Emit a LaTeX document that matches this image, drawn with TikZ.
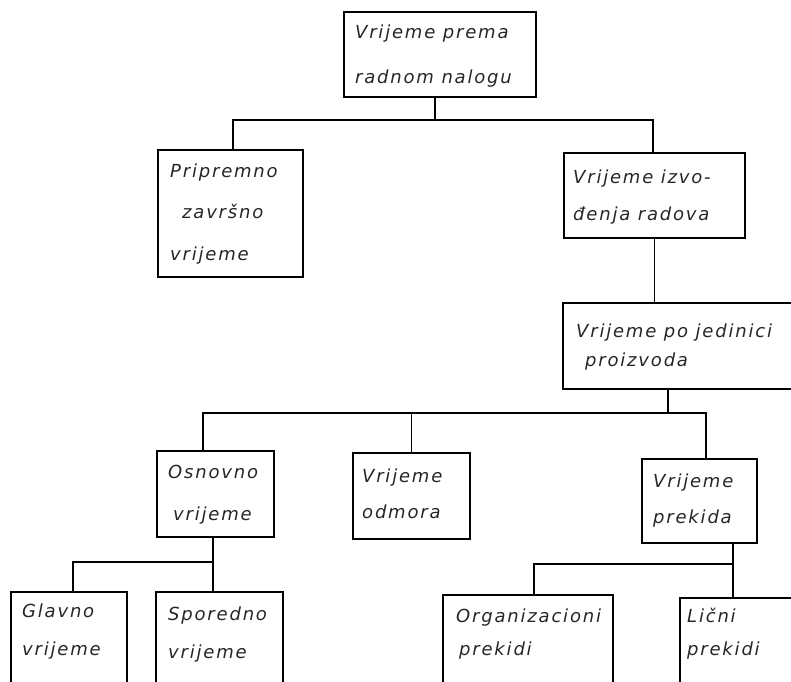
\documentclass[tikz,border=0pt]{standalone}
\usepackage{fontspec}
\newfontfamily\lett[LetterSpace=10]{DejaVu Sans}
\begin{document}
\begin{tikzpicture}[x=1pt,y=-1pt,
  box/.style={draw, line width=1.8pt, inner sep=0pt, outer sep=0pt},
  conn/.style={line width=1.3pt},
  lbl/.style={font=\lett\itshape\fontsize{18}{20}\selectfont, inner sep=0pt, anchor=base west, text=black!85}]
\useasboundingbox (0,0) rectangle (791,681);
\clip (0,0) rectangle (791,681);
% boxes
\node[box, minimum width=192pt, minimum height=85pt] (top)  at (440,54.5) {};
\node[box, minimum width=145pt, minimum height=127pt] (prip) at (230.5,213.5) {};
\node[box, minimum width=181pt, minimum height=85pt] (izvo) at (654.5,195.5) {};
\node[box, minimum width=235pt, minimum height=86pt] (jed)  at (680.5,346) {};
\node[box, minimum width=117pt, minimum height=86pt] (osn)  at (215.5,494) {};
\node[box, minimum width=117pt, minimum height=86pt] (odm)  at (411.5,496) {};
\node[box, minimum width=115pt, minimum height=84pt] (prek) at (699.5,501) {};
\node[box, minimum width=116pt, minimum height=100pt] (glav) at (69,642) {};
\node[box, minimum width=127pt, minimum height=100pt] (spor) at (219.5,642) {};
\node[box, minimum width=170pt, minimum height=100pt] (org)  at (528,645) {};
\node[box, minimum width=120pt, minimum height=100pt] (lic)  at (740,648) {};
% labels
\node[lbl] (t1) at (355,38) {Vrijeme prema};
\node[lbl] (t2) at (355,83) {radnom nalogu};
\node[lbl] (p1) at (170,177) {Pripremno};
\node[lbl] (p2) at (182,218) {završno};
\node[lbl] (p3) at (170,260) {vrijeme};
\node[lbl] (i1) at (573,183) {Vrijeme izvo-};
\node[lbl] (i2) at (573,220) {đenja radova};
\node[lbl] (j1) at (576,337) {Vrijeme po jedinici};
\node[lbl] (j2) at (585,366) {proizvoda};
\node[lbl] (o1) at (168,478) {Osnovno};
\node[lbl] (o2) at (173,520) {vrijeme};
\node[lbl] (d1) at (362,482) {Vrijeme};
\node[lbl] (d2) at (362,518) {odmora};
\node[lbl] (k1) at (653,487) {Vrijeme};
\node[lbl] (k2) at (653,523) {prekida};
\node[lbl] (g1) at (22,617) {Glavno};
\node[lbl] (g2) at (22,655) {vrijeme};
\node[lbl] (s1) at (168,620) {Sporedno};
\node[lbl] (s2) at (168,658) {vrijeme};
\node[lbl] (r1) at (456,622) {Organizacioni};
\node[lbl] (r2) at (459,655) {prekidi};
\node[lbl] (l1) at (687,622) {Lični};
\node[lbl] (l2) at (687,655) {prekidi};
% connectors
\coordinate (bus1) at (435,120);
\draw[conn] ([xshift=-5pt]top.south) -- (bus1);
\draw[conn] ([xshift=2.5pt]prip.north) |- (bus1) -| ([xshift=-1.5pt]izvo.north);
\draw[conn] (izvo.south) -- (izvo.south |- jed.north);
\coordinate (bus2) at (668,413);
\draw[conn] ([xshift=-12.5pt]jed.south) -- (bus2);
\draw[conn] ([xshift=-12.5pt]osn.north) |- (bus2) -| ([xshift=6.5pt]prek.north);
\draw[conn] (odm.north) -- (odm.north |- bus2);
\coordinate (bus3) at (213,562);
\draw[conn] ([xshift=-2.5pt]osn.south) -- ([xshift=-6.5pt]spor.north);
\draw[conn] ([xshift=4pt]glav.north) |- (bus3);
\coordinate (bus4) at (733,564);
\draw[conn] ([xshift=33.5pt]prek.south) -- ([xshift=-7pt]lic.north);
\draw[conn] ([xshift=6pt]org.north) |- (bus4);
\end{tikzpicture}
\end{document}
